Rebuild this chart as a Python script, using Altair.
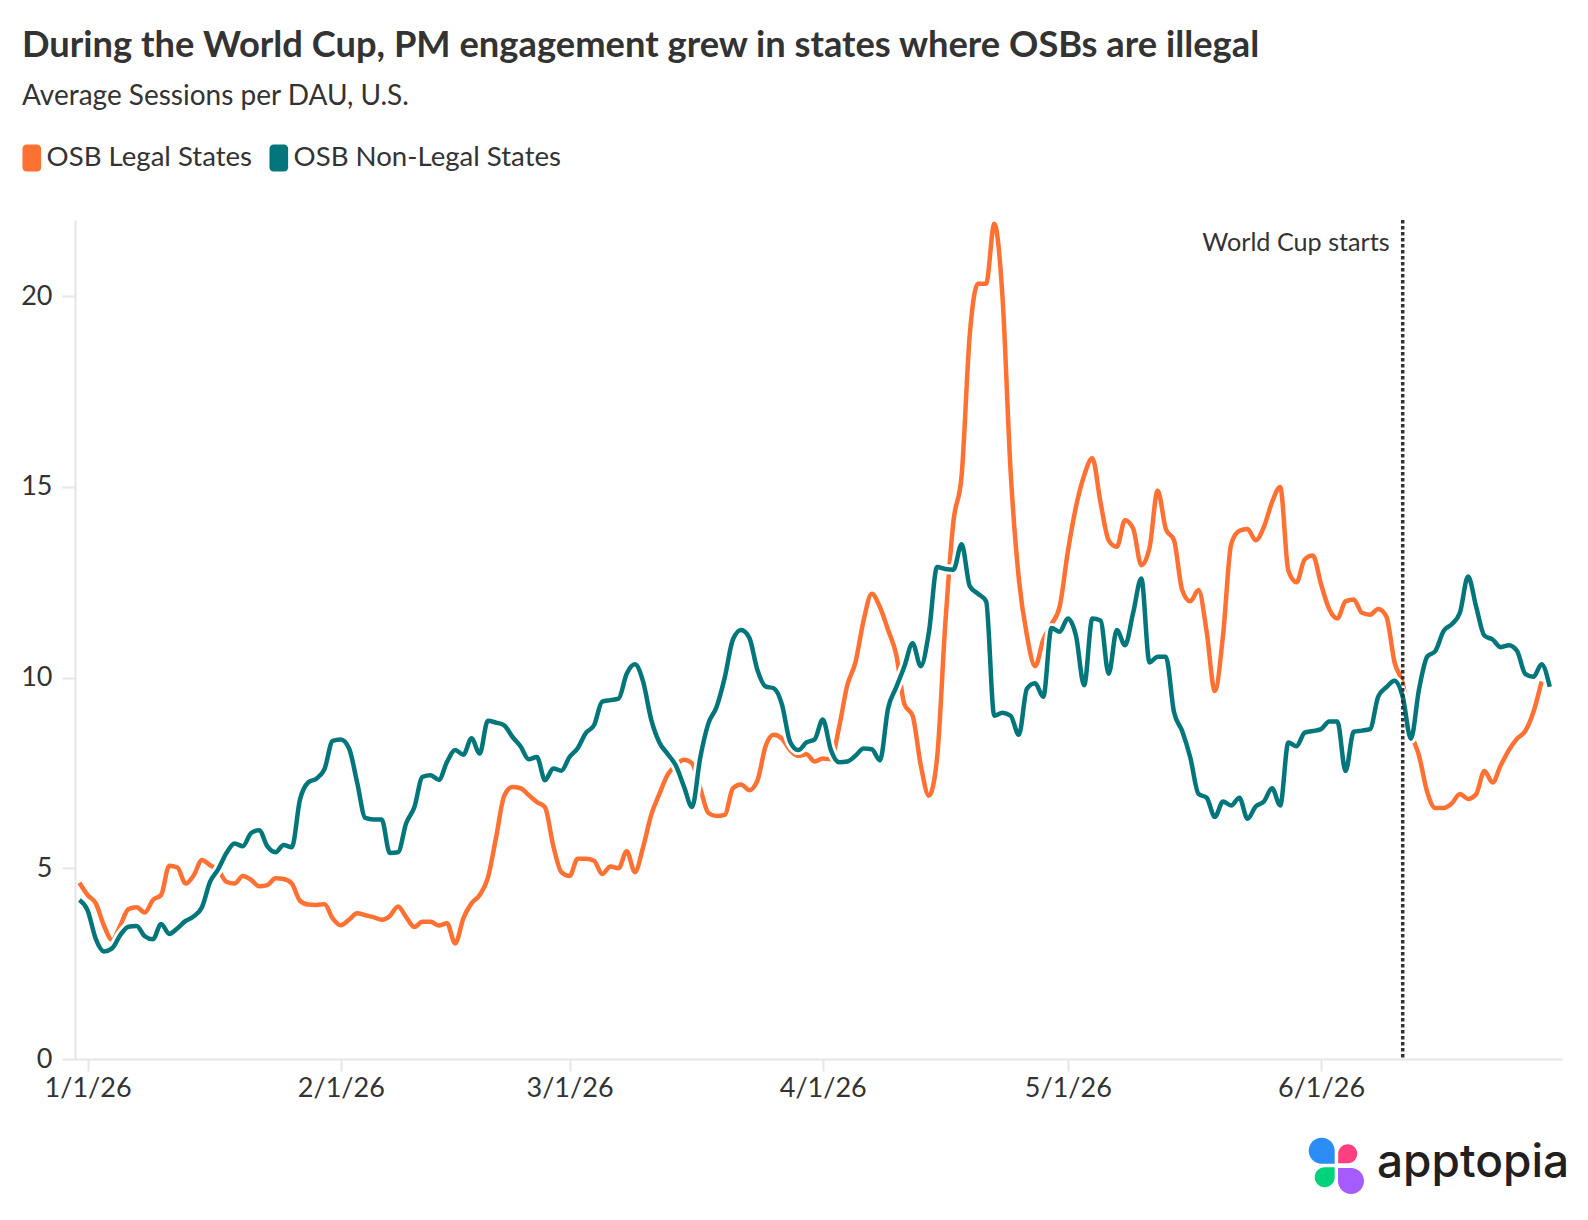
import altair as alt
import pandas as pd

# ---------------- data ----------------
START_DATE = "2025-12-31"
SERIES = ["OSB Legal States", "OSB Non-Legal States"]
COLORS = ["#ff7033", "#03767b"]

legal = [
    4.62, 4.3, 4.08, 3.5, 3.12, 3.5, 3.93, 3.98, 3.84, 4.17,
    4.3, 5.07, 5.02, 4.6, 4.82, 5.22, 5.08, 4.95, 4.65, 4.6,
    4.8, 4.7, 4.53, 4.56, 4.74, 4.72, 4.6, 4.15, 4.05, 4.04,
    4.06, 3.69, 3.51, 3.65, 3.82, 3.77, 3.72, 3.65, 3.75, 4.0,
    3.72, 3.46, 3.6, 3.6, 3.5, 3.56, 3.03, 3.69, 4.08, 4.3,
    4.75, 5.8, 6.9, 7.13, 7.1, 6.92, 6.74, 6.6, 5.6, 4.9,
    4.8, 5.25, 5.25, 5.2, 4.85, 5.05, 5.0, 5.45, 4.9, 5.55,
    6.4, 6.95, 7.45, 7.7, 7.85, 7.75, 7.1, 6.45, 6.37, 6.4,
    7.1, 7.2, 7.05, 7.3, 8.2, 8.5, 8.4, 8.1, 7.95, 7.99,
    7.8, 7.88, 7.86, 8.7, 9.8, 10.4, 11.5, 12.2, 11.85, 11.25,
    10.6, 9.3, 9.0, 7.7, 6.9, 7.9, 11.4, 14.1, 15.3, 19.0,
    20.33, 20.33, 21.9, 20.0, 15.4, 12.6, 11.1, 10.3, 11.0, 11.4,
    11.86, 13.3, 14.48, 15.3, 15.75, 14.6, 13.6, 13.43, 14.13, 13.91,
    12.95, 13.4, 14.9, 13.9, 13.6, 12.3, 12.0, 12.3, 11.2, 9.65,
    11.1, 13.5, 13.85, 13.9, 13.6, 13.95, 14.6, 15.0, 12.8, 12.5,
    13.1, 13.2, 12.45, 11.8, 11.55, 12.0, 12.05, 11.7, 11.65, 11.8,
    11.6, 10.4, 9.85, 8.6, 7.95, 7.0, 6.58, 6.58, 6.7, 6.95,
    6.82, 6.95, 7.55, 7.25, 7.7, 8.1, 8.4, 8.6, 9.1, 9.9,
    None,
]

non_legal = [
    4.17, 3.9, 3.15, 2.82, 2.9, 3.25, 3.47, 3.49, 3.22, 3.14,
    3.54, 3.28, 3.43, 3.62, 3.74, 3.98, 4.65, 4.98, 5.4, 5.65,
    5.58, 5.92, 6.0, 5.58, 5.42, 5.61, 5.55, 6.8, 7.25, 7.35,
    7.6, 8.34, 8.38, 8.15, 7.25, 6.32, 6.28, 6.28, 5.4, 5.42,
    6.18, 6.6, 7.4, 7.44, 7.32, 7.79, 8.1, 7.98, 8.41, 8.01,
    8.87, 8.82, 8.75, 8.45, 8.2, 7.86, 7.92, 7.31, 7.62, 7.56,
    7.92, 8.15, 8.55, 8.75, 9.37, 9.41, 9.45, 10.1, 10.35, 9.9,
    8.9, 8.3, 8.0, 7.7, 7.15, 6.61, 7.9, 8.8, 9.23, 10.0,
    11.0, 11.25, 11.05, 10.2, 9.77, 9.72, 9.3, 8.32, 8.1, 8.3,
    8.38, 8.9, 8.1, 7.78, 7.8, 7.95, 8.14, 8.12, 7.83, 9.2,
    9.75, 10.3, 10.9, 10.3, 11.2, 12.9, 12.85, 12.83, 13.5, 12.4,
    12.2, 12.0, 9.0, 9.08, 9.0, 8.5, 9.71, 9.85, 9.5, 11.3,
    11.2, 11.55, 11.1, 9.8, 11.55, 11.5, 10.1, 11.25, 10.85, 11.7,
    12.6, 10.4, 10.55, 10.55, 9.1, 8.6, 7.9, 6.95, 6.85, 6.35,
    6.75, 6.65, 6.85, 6.3, 6.62, 6.75, 7.1, 6.65, 8.3, 8.2,
    8.56, 8.6, 8.65, 8.85, 8.85, 7.55, 8.58, 8.61, 8.65, 9.5,
    9.75, 9.92, 9.5, 8.4, 9.7, 10.55, 10.7, 11.22, 11.4, 11.7,
    12.65, 11.85, 11.1, 11.0, 10.8, 10.85, 10.7, 10.1, 10.02, 10.35,
    9.76,
]

EVENT_DATE = "2026-06-11"
EVENT_LABEL = "World Cup starts"
Y_TICKS = [0, 5, 10, 15, 20]
X_TICK_MONTHS = [1, 2, 3, 4, 5, 6]

TITLE = "During the World Cup, PM engagement grew in states where OSBs are illegal"
SUBTITLE = "Average Sessions per DAU, U.S."
LOGO_TEXT = "apptopia"

FONT = "Lato"
TEXT_COLOR = "#333333"
AXIS_COLOR = "#e6e6e6"

# ---------------- table ----------------
n = len(non_legal)
dates = list(pd.date_range(START_DATE, periods=n, freq="D").strftime("%Y-%m-%d"))
df = pd.DataFrame({
    "date": dates + dates,
    "series": [SERIES[0]] * n + [SERIES[1]] * n,
    "value": legal + non_legal,
}).dropna()

events = pd.DataFrame({"date": [EVENT_DATE], "label": [EVENT_LABEL]})
one = pd.DataFrame({"k": [0]})

W, H = 1487, 839

x_enc = alt.X(
    "date:T",
    scale=alt.Scale(
        type="utc",
        domain=[
            alt.DateTime(year=2025, month=12, date=30, hours=11, utc=True),
            alt.DateTime(year=2026, month=6, date=30, hours=12, utc=True),
        ],
    ),
    axis=alt.Axis(
        title=None,
        values=[alt.DateTime(year=2026, month=m, date=1, utc=True) for m in X_TICK_MONTHS],
        labelExpr="utcFormat(datum.value, '%-m/%-d/%y')",
        grid=False,
        domainColor=AXIS_COLOR,
        domainWidth=2,
        tickColor=AXIS_COLOR,
        tickWidth=2,
        tickSize=12,
        labelPadding=4,
        labelFlush=False,
        labelFont=FONT,
        labelFontSize=27,
        labelColor=TEXT_COLOR,
    ),
)

y_enc = alt.Y(
    "value:Q",
    scale=alt.Scale(domain=[0, 22], nice=False, zero=True),
    axis=alt.Axis(
        title=None,
        values=Y_TICKS,
        grid=False,
        domainColor=AXIS_COLOR,
        domainWidth=2,
        tickColor=AXIS_COLOR,
        tickWidth=2,
        tickSize=13,
        labelPadding=10,
        labelFont=FONT,
        labelFontSize=27,
        labelColor=TEXT_COLOR,
    ),
)

PILL = ("M-0.38,-1 H0.38 A0.31,0.31 0 0 1 0.69,-0.69 V0.69 A0.31,0.31 0 0 1 0.38,1 "
        "H-0.38 A0.31,0.31 0 0 1 -0.69,0.69 V-0.69 A0.31,0.31 0 0 1 -0.38,-1 Z")

color_enc = alt.Color(
    "series:N",
    scale=alt.Scale(domain=SERIES, range=COLORS),
    legend=alt.Legend(
        title=None,
        orient="none",
        direction="horizontal",
        legendX=-57,
        legendY=-76,
        symbolType=PILL,
        symbolSize=729,
        symbolStrokeWidth=0,
        symbolOpacity=1,
        labelFont=FONT,
        labelFontSize=27.6,
        labelColor=TEXT_COLOR,
        labelLimit=0,
        labelOffset=1,
        columnPadding=12,
    ),
)

base = alt.Chart(df).encode(x=x_enc, y=y_enc)

# invisible filled points: give the legend filled symbols
legend_points = base.mark_point(filled=True, size=0, opacity=1).encode(color=color_enc)

line_legal = base.transform_filter(alt.datum.series == SERIES[0]).mark_line(
    strokeWidth=4.5, interpolate="monotone"
).encode(color=color_enc)

halo = base.transform_filter(alt.datum.series == SERIES[1]).mark_line(
    strokeWidth=10, interpolate="monotone", color="white"
)

line_non_legal = base.transform_filter(alt.datum.series == SERIES[1]).mark_line(
    strokeWidth=4.5, interpolate="monotone"
).encode(color=color_enc)

rule = alt.Chart(events).mark_rule(
    color=TEXT_COLOR, strokeWidth=3.5, strokeDash=[3.5, 2.5]
).encode(x=x_enc)

rule_text = alt.Chart(events).mark_text(
    align="right", baseline="alphabetic", dx=-13, font=FONT, fontSize=25.2, color=TEXT_COLOR
).encode(x=x_enc, y=alt.datum(21.2), text="label:N")

# ---------------- logo ----------------
PETALS = [
    ("M1,1 L0,1 A1,1 0 0 1 -1,0 A1,1 0 0 1 0,-1 A1,1 0 0 1 1,0 Z", "#2b8cf6", 1246.7, 930.7, 676),
    ("M-1,1 L-1,0 A1,1 0 0 1 0,-1 A1,1 0 0 1 1,0 A1,1 0 0 1 0,1 Z", "#ff3f7e", 1272.7, 933.7, 361),
    ("M1,-1 L1,0 A1,1 0 0 1 0,1 A1,1 0 0 1 -1,0 A1,1 0 0 1 0,-1 Z", "#00d27a", 1249.7, 957.3, 400),
    ("M-1,-1 L0,-1 A1,1 0 0 1 1,0 A1,1 0 0 1 0,1 A1,1 0 0 1 -1,0 Z", "#a45cff", 1276.0, 961.0, 676),
]
logo_layers = []
for path, col, px, py, sz in PETALS:
    logo_layers.append(
        alt.Chart(one).mark_point(shape=path, filled=True, fill=col, strokeWidth=0,
                                  size=sz, opacity=1)
        .encode(x=alt.value(px), y=alt.value(py))
    )
logo_text = alt.Chart(one).mark_text(
    align="left", baseline="alphabetic", font="Inter", fontSize=46, fontWeight=500,
    color="#231f20", text=LOGO_TEXT
).encode(x=alt.value(1302), y=alt.value(957))

chart = alt.layer(
    legend_points, line_legal, halo, line_non_legal, rule, rule_text, *logo_layers, logo_text
).properties(
    width=W,
    height=H,
    title=alt.TitleParams(
        text=TITLE,
        subtitle=SUBTITLE,
        anchor="start",
        frame="group",
        orient="top",
        dx=-53,
        offset=33,
        font=FONT,
        fontSize=36.3,
        fontWeight="bold",
        color=TEXT_COLOR,
        subtitleFont=FONT,
        subtitleFontSize=28,
        subtitleColor=TEXT_COLOR,
        subtitlePadding=19,
    ),
    padding={"left": 67, "top": 212, "right": 18, "bottom": 153},
    autosize=alt.AutoSizeParams(type="none"),
).configure_view(stroke=None)

chart.save("out.html", embed_options={"renderer": "svg", "actions": False})
